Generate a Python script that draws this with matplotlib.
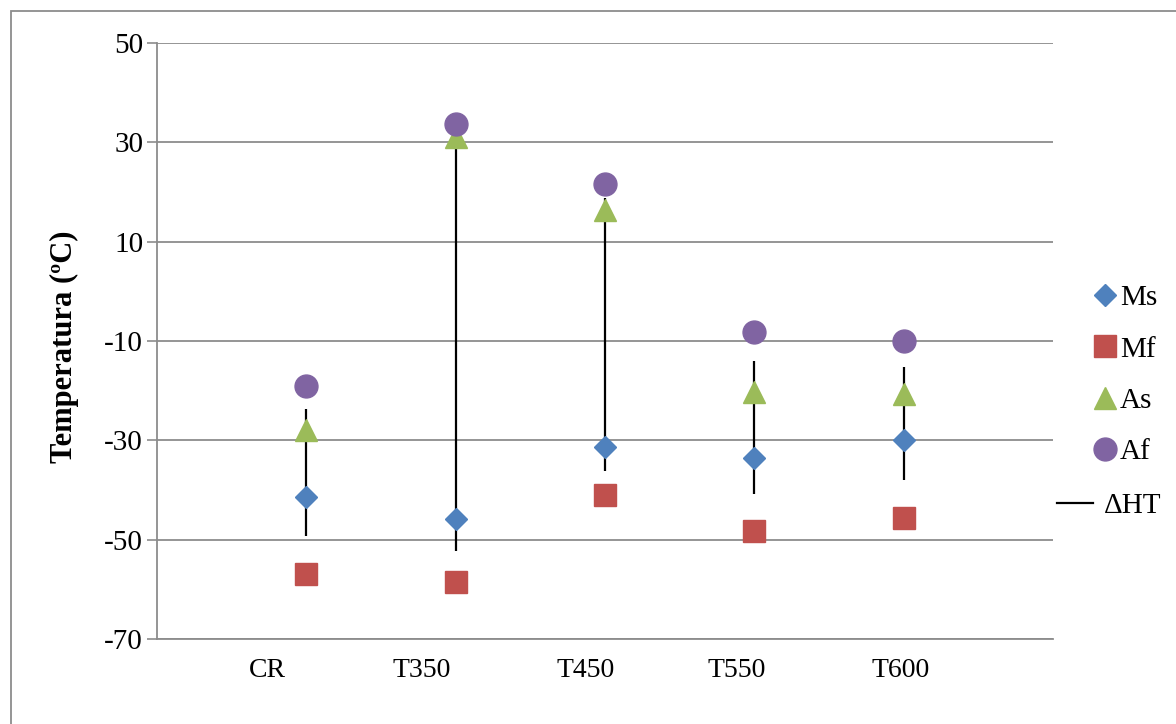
import matplotlib.pyplot as plt
from matplotlib.lines import Line2D
from matplotlib.patches import Rectangle

# datos
muestras = ['CR', 'T350', 'T450', 'T550', 'T600']
x_pos = [1, 2, 3, 4, 5]
label_pos = [0.74, 1.77, 2.87, 3.88, 4.98]
Ms = [-41.5, -45.9, -31.4, -33.5, -30.0]
Mf = [-56.9, -58.5, -41.0, -48.2, -45.7]
As = [-28.0, 31.0, 16.4, -20.2, -20.6]
Af = [-19.0, 33.7, 21.6, -8.2, -10.1]
dHT_alto = [-23.6, 29.5, 18.8, -14.0, -15.2]
dHT_bajo = [-49.3, -52.3, -36.2, -40.8, -37.9]

plt.rcParams['font.family'] = ['Liberation Serif', 'DejaVu Serif']
plt.rcParams['axes.unicode_minus'] = False

fig = plt.figure(figsize=(11.76, 7.24), dpi=100)
ax = fig.add_axes([157 / 1176, 1 - 639 / 724, 896 / 1176, 596 / 724])

gris = '#8c8c8c'

# lineas de histeresis
ax.vlines(x_pos, dHT_bajo, dHT_alto, colors='black', linewidth=1.6, zorder=2)

ax.plot(x_pos, Ms, linestyle='none', marker='D', markersize=11.5, color='#4F81BD', zorder=3, label='Ms')
ax.plot(x_pos, Mf, linestyle='none', marker='s', markersize=16.5, color='#C0504D', zorder=3, label='Mf')
ax.plot(x_pos, As, linestyle='none', marker='^', markersize=16, color='#9BBB59', zorder=3, label='As')
ax.plot(x_pos, Af, linestyle='none', marker='o', markersize=16.5, color='#8064A2', zorder=3, label='Af')

ax.set_xlim(0, 6)
ax.set_ylim(-70, 50)
ax.set_yticks(range(-70, 51, 20))
ax.set_xticks(label_pos)
ax.set_xticklabels(muestras)
ax.tick_params(axis='x', length=0, pad=14, labelsize=20)
ax.tick_params(axis='y', length=7, width=1.2, color=gris, pad=3, labelsize=21)

ax.yaxis.grid(True, color=gris, linewidth=1.3)
ax.set_axisbelow(True)
for lado in ['top', 'right']:
    ax.spines[lado].set_visible(False)
ax.spines['left'].set_color(gris)
ax.spines['left'].set_linewidth(1.3)
ax.spines['bottom'].set_color(gris)
ax.spines['bottom'].set_linewidth(1.3)

ax.set_ylabel('Temperatura (ºC)', fontsize=22, fontweight='bold')
ax.yaxis.set_label_coords(-0.087, 0.49)

# leyenda
leg1 = fig.legend(loc='upper left', bbox_to_anchor=(1093 / 1176, 1 - 285 / 724), frameon=False,
                  fontsize=21, handlelength=0.8, handletextpad=0.12, labelspacing=0.85,
                  borderaxespad=0, borderpad=0)
h_dht = Line2D([], [], color='black', linewidth=1.6)
fig.legend([h_dht], ['ΔHT'], loc='upper left', bbox_to_anchor=(1057 / 1176, 1 - 493 / 724),
           frameon=False, fontsize=21, handlelength=1.25, handletextpad=0.35,
           borderaxespad=0, borderpad=0)

# marco del grafico
fig.add_artist(Rectangle((11 / 1176, -0.1), 1.2, 1.1 - 11 / 724, transform=fig.transFigure,
                         fill=False, edgecolor=gris, linewidth=1.3))

plt.savefig('out.png', dpi=100)
